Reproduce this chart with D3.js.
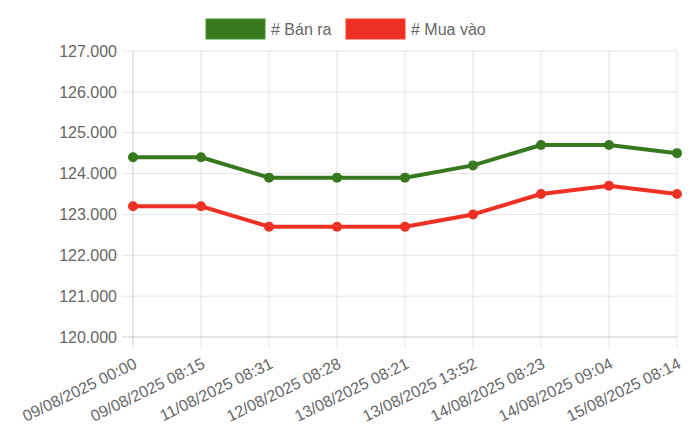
<!DOCTYPE html>
<html>
<head>
<meta charset="utf-8">
<script src="https://cdn.jsdelivr.net/npm/d3@7"></script>
<style>
  body { margin: 0; background: #fff; }
  svg { display: block; font-family: "Liberation Sans", Arial, Helvetica, sans-serif; }
</style>
</head>
<body>
<svg class="chart-svg"></svg>
<script>
const labels = [
    '09/08/2025 00:00', '09/08/2025 08:15', '11/08/2025 08:31',
    '12/08/2025 08:28', '13/08/2025 08:21', '13/08/2025 13:52',
    '14/08/2025 08:23', '14/08/2025 09:04', '15/08/2025 08:14'
]
const banRa = [124400, 124400, 123900, 123900, 123900, 124200, 124700, 124700, 124500]
const muaVao = [123200, 123200, 122700, 122700, 122700, 123000, 123500, 123700, 123500]
const yTicks = [120000, 121000, 122000, 123000, 124000, 125000, 126000, 127000]
const seriesNames = ['# Bán ra', '# Mua vào']

const draw = () => {

    const width = 700
    const height = 435

    const svg = d3.select('.chart-svg')
        .attr('width', width)
        .attr('height', height)

    const vn = d3.formatLocale({ decimal: ',', thousands: '.', grouping: [3], currency: ['', ''] })
    const fmt = vn.format(',.3f')
    const tickFmt = v => vn.format(',')(v / 1000) + '.000'

    const x = d3.scalePoint().domain(labels).range([133, 677])
    const y = d3.scaleLinear().domain([120000, 127000]).range([337, 51])

    const series = [
        { name: seriesNames[0], values: banRa, color: '#38791f' },
        { name: seriesNames[1], values: muaVao, color: '#ee3124' }
    ]

    // grid: horizontal
    svg.append('g')
        .selectAll('line')
        .data(yTicks)
        .enter()
        .append('line')
        .attr('x1', 122)
        .attr('x2', 677)
        .attr('y1', d => y(d))
        .attr('y2', d => y(d))
        .attr('stroke', d => d === 120000 ? 'rgba(0,0,0,0.2)' : 'rgba(0,0,0,0.1)')
        .attr('stroke-width', 1)

    // grid: vertical
    svg.append('g')
        .selectAll('line')
        .data(labels)
        .enter()
        .append('line')
        .attr('x1', d => x(d))
        .attr('x2', d => x(d))
        .attr('y1', 51)
        .attr('y2', 347)
        .attr('stroke', (d, i) => i === 0 ? 'rgba(0,0,0,0.2)' : 'rgba(0,0,0,0.1)')
        .attr('stroke-width', 1)

    // y labels
    svg.append('g')
        .selectAll('text')
        .data(yTicks)
        .enter()
        .append('text')
        .attr('x', 117)
        .attr('y', d => y(d))
        .attr('dy', '0.36em')
        .attr('text-anchor', 'end')
        .attr('font-size', 16)
        .attr('fill', '#666')
        .text(tickFmt)

    // x labels
    svg.append('g')
        .selectAll('text')
        .data(labels)
        .enter()
        .append('text')
        .attr('transform', d => `translate(${x(d)},357) rotate(-26)`)
        .attr('y', 11.5)
        .attr('text-anchor', 'end')
        .attr('font-size', 16)
        .attr('fill', '#666')
        .text(d => d)

    const line = d3.line()
        .x((d, i) => x(labels[i]))
        .y(d => y(d))

    series.forEach(s => {

        svg.append('path')
            .datum(s.values)
            .attr('d', line)
            .attr('fill', 'none')
            .attr('stroke', s.color)
            .attr('stroke-width', 4)
            .attr('stroke-linejoin', 'round')

        svg.append('g')
            .selectAll('circle')
            .data(s.values)
            .enter()
            .append('circle')
            .attr('cx', (d, i) => x(labels[i]))
            .attr('cy', d => y(d))
            .attr('r', 5)
            .attr('fill', s.color)

    })

    // legend
    const legendX = [206, 346]
    const legend = svg.append('g')
        .selectAll('g')
        .data(series)
        .enter()
        .append('g')
        .attr('transform', (d, i) => `translate(${legendX[i]},19)`)

    legend.append('rect')
        .attr('width', 59)
        .attr('height', 20)
        .attr('fill', d => d.color)
        .attr('stroke', d => d3.color(d.color).brighter(0.6))
        .attr('stroke-width', 1)

    legend.append('text')
        .attr('x', 65)
        .attr('y', 16)
        .attr('font-size', 16)
        .attr('fill', '#666')
        .text(d => d.name)

}

draw()
</script>
</body>
</html>
